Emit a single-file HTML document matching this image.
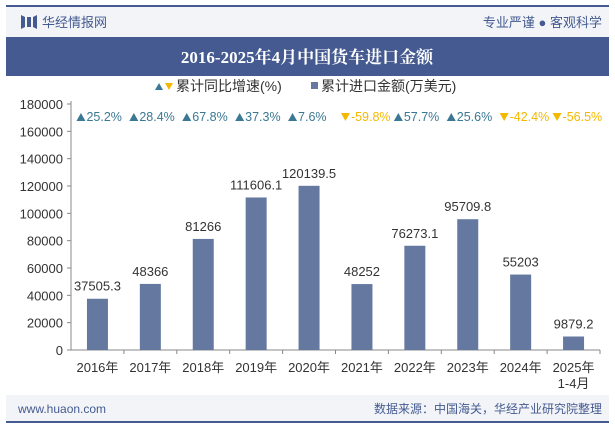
<!DOCTYPE html>
<html><head><meta charset="utf-8">
<style>
body{margin:0;width:615px;height:427px;overflow:hidden;background:#fff;font-family:"Liberation Sans","Noto Sans CJK SC",sans-serif;}
svg text{font-family:"Liberation Sans","Noto Sans CJK SC",sans-serif;}
svg text.serif{font-family:"Liberation Serif","Noto Serif CJK SC",serif;}
</style></head><body>
<svg id="c" width="615" height="427" xmlns="http://www.w3.org/2000/svg">
<rect x="0" y="0" width="615" height="427" fill="#fff"/>
<rect x="6" y="5" width="603" height="2" fill="#445a90"/>
<rect x="6" y="7" width="603" height="30" fill="#f2f4f8"/>
<path d="M21 15 l4 2 v10 l-4 2z M27 17 h4 v10 h-4z M33 17 l4 -2 v14 l-4 -2z" fill="#445a90"/>
<text x="42" y="27" font-size="13" fill="#445a90">华经情报网</text>
<text x="602" y="27" font-size="13" fill="#445a90" text-anchor="end">专业严谨 ● 客观科学</text>
<rect x="6" y="37" width="603" height="39" fill="#445a90"/>
<text class="serif" x="307" y="63" font-size="17" font-weight="bold" fill="#fff" text-anchor="middle">2016-2025年4月中国货车进口金额</text>
<g>
<path d="M155 90 l4 -7 l4 7z" fill="#3a7894"/><path d="M165 83 h8 l-4 7z" fill="#f5b800"/>
<text x="176" y="91" font-size="14" fill="#333">累计同比增速(%)</text>
<rect x="311" y="82" width="7" height="7" fill="#6579a0"/>
<text x="321" y="91" font-size="14" fill="#333">累计进口金额(万美元)</text>
</g>
<rect x="6" y="395" width="603" height="26" fill="#f2f4f8"/>
<rect x="6" y="421" width="603" height="2" fill="#445a90"/>
<text x="18" y="413" font-size="12" fill="#445a90">www.huaon.com</text>
<text x="602" y="413" font-size="12" fill="#445a90" text-anchor="end">数据来源：中国海关，华经产业研究院整理</text>
<g id="plot"></g>
</svg>
<script>
const categories=["2016年","2017年","2018年","2019年","2020年","2021年","2022年","2023年","2024年","2025年"];
const amounts=[37505.3,48366,81266,111606.1,120139.5,48252,76273.1,95709.8,55203,9879.2];
const growth=[25.2,28.4,67.8,37.3,7.6,-59.8,57.7,25.6,-42.4,-56.5];
const amountLabels=["37505.3","48366","81266","111606.1","120139.5","48252","76273.1","95709.8","55203","9879.2"];
const yTicks=[0,20000,40000,60000,80000,100000,120000,140000,160000,180000];
const NS="http://www.w3.org/2000/svg";
const g=document.getElementById('plot');
const x0=71,x1=600,yb=350,yt=104,ymax=180000;
const band=(x1-x0)/categories.length;
const xc=i=>x0+band*(i+0.5);
const y=v=>yb-(v/ymax)*(yb-yt);
function mk(t,a,p){const e=document.createElementNS(NS,t);for(const k in a)e.setAttribute(k,a[k]);(p||g).appendChild(e);return e;}
let ax=mk('line',{x1:x0,y1:yt-3,x2:x0,y2:yb,stroke:'#888'});


let bx=mk('line',{x1:x0,y1:yb,x2:x1,y2:yb,stroke:'#888'});


yTicks.forEach(v=>{
 mk('line',{x1:x0-4,y1:y(v),x2:x0,y2:y(v),stroke:'#888'});
 const t=mk('text',{x:x0-8,y:y(v)+5,'font-size':13,fill:'#333','text-anchor':'end'});t.textContent=v;
 
 
});
categories.forEach((c,i)=>{
 mk('line',{x1:x0+band*(i+1),y1:yb,x2:x0+band*(i+1),y2:yb+4,stroke:'#888'});
 const r=mk('rect',{x:xc(i)-10.5,y:y(amounts[i]),width:21,height:yb-y(amounts[i]),fill:'#6579a0'});
 
 
 const t=mk('text',{x:xc(i),y:yb+22,'font-size':13,fill:'#333','text-anchor':'middle'});t.textContent=c;
 
 
 if(i===categories.length-1){const t2=mk('text',{x:xc(i),y:yb+38,'font-size':13,fill:'#333','text-anchor':'middle'});t2.textContent='1-4月';
  
  }
 const vl=mk('text',{x:xc(i),y:y(amounts[i])-8,'font-size':13,fill:'#333','text-anchor':'middle'});vl.textContent=amountLabels[i];
 
 
 const up=growth[i]>=0,col=up?'#3a7894':'#f5b800';
 const gx=xc(i)-21,gy=121;
 mk('path',{d:up?`M${gx} ${gy} l4.5 -8 l4.5 8z`:`M${gx} ${gy-8} h9 l-4.5 8z`,fill:col});
 const gl=mk('text',{x:gx+10,y:gy,'font-size':12.5,fill:col});gl.textContent=growth[i].toFixed(1)+'%';
 
 
});
</script>
</body></html>
